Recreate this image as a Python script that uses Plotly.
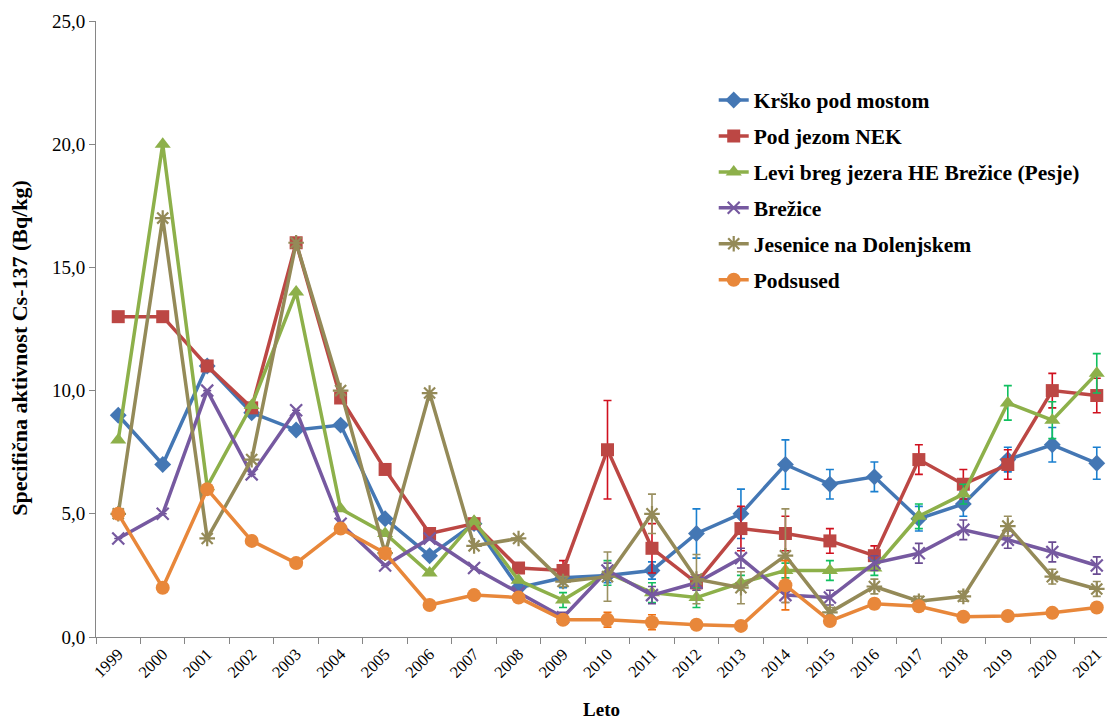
import plotly.graph_objects as go

years = [str(y) for y in range(1999, 2022)]

krsko = [9.0, 7.0, 11.0, 9.1, 8.4, 8.6, 4.8, 3.3, 4.6, 2.0, 2.4, 2.5, 2.7, 4.2, 5.0, 7.0, 6.2, 6.5, 4.8, 5.4, 7.2, 7.8, 7.05]
krsko_err = [None] * 10 + [0.4, 0.3, 0.35, 1.0, 1.0, 1.0, 0.6, 0.6, 0.5, 0.5, 0.5, 0.7, 0.65]

nek = [13.0, 13.0, 11.0, 9.3, 16.0, 9.7, 6.8, 4.2, 4.6, 2.8, 2.7, 7.6, 3.6, 2.2, 4.4, 4.2, 3.9, 3.3, 7.2, 6.2, 7.0, 10.0, 9.8]
nek_err = [None] * 10 + [0.4, 2.0, 1.0, 0.3, 0.9, 0.7, 0.5, 0.4, 0.6, 0.6, 0.6, 0.7, 0.7]

pesje = [8.0, 20.0, 6.1, 9.4, 14.0, 5.2, 4.2, 2.6, 4.7, 2.3, 1.5, 2.6, 1.8, 1.6, 2.2, 2.7, 2.7, 2.8, 4.9, 5.8, 9.5, 8.8, 10.7]
pesje_err = [None] * 10 + [0.3, 0.5, 0.4, 0.4, 0.3, 0.3, 0.4, 0.3, 0.5, 0.4, 0.7, 0.75, 0.8]

brezice = [4.0, 5.0, 10.0, 6.6, 9.2, 4.6, 2.9, 4.0, 2.8, 1.8, 0.8, 2.7, 1.7, 2.2, 3.2, 1.7, 1.6, 3.0, 3.4, 4.35, 3.95, 3.45, 2.9]
brezice_err = [None] * 10 + [0.2, 0.3, 0.35, 0.3, 0.4, 0.3, 0.3, 0.3, 0.4, 0.4, 0.35, 0.4, 0.35]

jesenice = [5.0, 17.0, 4.0, 7.2, 16.0, 10.0, 3.4, 9.9, 3.7, 4.0, 2.25, 2.45, 5.0, 2.35, 2.0, 3.3, 1.0, 2.05, 1.45, 1.65, 4.5, 2.45, 1.95]
jesenice_err = [None] * 10 + [0.2, 1.0, 0.8, 1.0, 0.65, 1.9, 0.2, 0.3, 0.2, 0.2, 0.4, 0.3, 0.3]

podsused = [5.0, 2.0, 6.0, 3.9, 3.0, 4.4, 3.4, 1.3, 1.7, 1.6, 0.7, 0.7, 0.6, 0.5, 0.45, 2.1, 0.65, 1.35, 1.25, 0.82, 0.85, 0.98, 1.2]
podsused_err = [None] * 11 + [0.3, 0.3, None, None, 1.0, 0.15, 0.2, None, None, None, None, None]

y_title = "Specifična aktivnost Cs-137 (Bq/kg)"
x_title = "Leto"

series = [
    ("Krško pod mostom", krsko, krsko_err, "#4477B4", "#1A7FCF", "diamond", 13, 0),
    ("Pod jezom NEK", nek, nek_err, "#BC4744", "#D0101E", "square", 13, 0),
    ("Levi breg jezera HE Brežice (Pesje)", pesje, pesje_err, "#8DB04A", "#10C060", "triangle-up", 14, 0),
    ("Brežice", brezice, brezice_err, "#7659A0", "#6A4C92", "x-thin-open", 12, 2.2),
    ("Jesenice na Dolenjskem", jesenice, jesenice_err, "#948A58", "#9A9060", "asterisk-open", 13, 2.2),
    ("Podsused", podsused, podsused_err, "#E8873A", "#F07010", "circle", 14, 0),
]

fig = go.Figure()
for i, (name, vals, err, col, ecol, sym, msize, lw) in enumerate(series):
    marker = dict(symbol=sym, size=msize, color=col)
    if lw:
        marker["line"] = dict(color=col, width=lw)
    fig.add_trace(go.Scatter(
        x=years, y=vals, name=name, mode="lines+markers",
        line=dict(color=col, width=3.5),
        marker=marker,
        legendgroup=str(i),
        error_y=dict(type="data", array=err, visible=True, color=ecol,
                     thickness=1.6, width=4),
    ))

serif = "Liberation Serif"

fig.update_layout(
    width=1107, height=722,
    margin=dict(l=96, r=0, t=21, b=85),
    paper_bgcolor="white", plot_bgcolor="white",
    separators=", ",
    font=dict(family=serif, color="black", size=18),
    showlegend=True,
    legend=dict(
        x=0.611, y=0.905, xanchor="left", yanchor="top",
        font=dict(family=serif, size=21.5, color="black", weight="bold"),
        tracegroupgap=5, bgcolor="rgba(0,0,0,0)", itemwidth=30,
    ),
    annotations=[dict(
        text=y_title, textangle=-90, showarrow=False,
        xref="paper", yref="paper", x=-0.076, y=0.47,
        xanchor="center", yanchor="middle",
        font=dict(family=serif, size=22, color="black", weight="bold"),
    )],
)

fig.update_xaxes(
    type="category", range=[-0.5, 22.23],
    showline=True, linecolor="#868686", linewidth=1,
    ticks="outside", tickson="boundaries", ticklen=6, tickcolor="#868686",
    tickangle=-45, tickfont=dict(family=serif, size=16.5),
    showgrid=False, zeroline=False,
    title=dict(text=x_title, font=dict(family=serif, size=19, weight="bold"), standoff=22),
)
fig.update_yaxes(
    range=[0, 25], dtick=5, tickformat=".1f",
    showline=True, linecolor="#868686", linewidth=1,
    ticks="outside", ticklen=6, tickcolor="#868686",
    tickfont=dict(family=serif, size=19),
    showgrid=False, zeroline=False,
)

fig.write_html("out.html")
